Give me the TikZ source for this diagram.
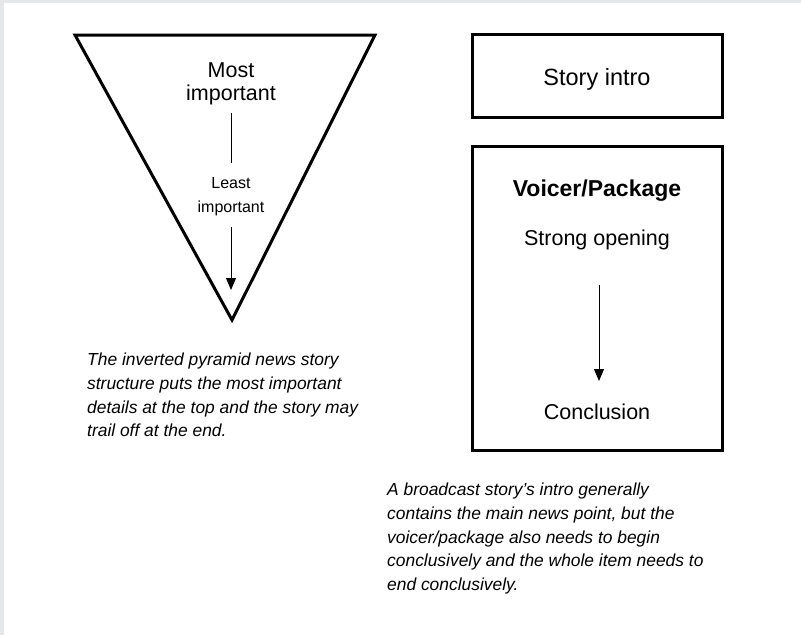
\documentclass[tikz,border=0pt]{standalone}
\usepackage{fontspec}
\setmainfont{Liberation Sans}
\usetikzlibrary{arrows.meta}
\definecolor{edgegray}{RGB}{229,230,232}
\begin{document}
\begin{tikzpicture}[x=1pt,y=-1pt,
  frame/.style={draw=black,line width=3pt,line join=miter},
  boxframe/.style={draw=black,line width=3pt,rectangle,inner sep=0pt},
  thinline/.style={draw=black,line width=0.9pt},
  flow/.style={draw=black,line width=0.9pt,-{Triangle[length=12pt,width=10pt]}},
  big/.style={inner sep=0pt,font=\fontsize{21.5}{23}\selectfont},
  small/.style={inner sep=0pt,font=\fontsize{16}{24}\selectfont},
  caption/.style={inner sep=0pt,anchor=north west,align=left,font=\fontsize{17.4}{23.7}\selectfont\itshape}]
\useasboundingbox (0,0) rectangle (801,635);
\fill[white] (0,0) rectangle (801,635);
\fill[edgegray] (0,0) rectangle (801,3);
\fill[edgegray] (0,0) rectangle (4,635);
% inverted pyramid
\coordinate (tl) at (75,35);
\coordinate (tr) at (375,35);
\coordinate (tip) at (232,320);
\draw[frame] (tl) -- (tr) -- (tip) -- cycle;
\node[big,anchor=north,align=center] (most) at (231,63) {Most\\important};
\node[small,anchor=north,align=center] (least) at (231,177) {Least\\important};
\coordinate (m1) at (231,113);
\coordinate (m2) at (231,163);
\draw[thinline] (m1) -- (m2);
\coordinate (l1) at (231,227);
\coordinate (l2) at (231,290);
\draw[flow] (l1) -- (l2);
\node[caption] (capleft) at (87,353) {The inverted pyramid news story\\structure puts the most important\\details at the top and the story may\\trail off at the end.};
% broadcast story
\node[boxframe,minimum width=250pt,minimum height=83pt] (intro) at (597,75.5) {};
\node[inner sep=0pt,anchor=base,font=\fontsize{23.5}{24}\selectfont] (introtext) at (597,85) {Story intro};
\node[boxframe,minimum width=250pt,minimum height=304pt] (package) at (597,298) {};
\node[inner sep=0pt,anchor=base,font=\fontsize{23}{24}\selectfont\bfseries] (vp) at (597,196) {Voicer/Package};
\node[big,anchor=base] (opening) at (597,245) {Strong opening};
\node[big,anchor=base] (conclusion) at (597,419) {Conclusion};
\coordinate (p1) at (599,285);
\coordinate (p2) at (599,381);
\draw[flow] (p1) -- (p2);
\node[caption] (capright) at (387,483) {A broadcast story's intro generally\\contains the main news point, but the\\voicer/package also needs to begin\\conclusively and the whole item needs to\\end conclusively.};
\end{tikzpicture}
\end{document}
